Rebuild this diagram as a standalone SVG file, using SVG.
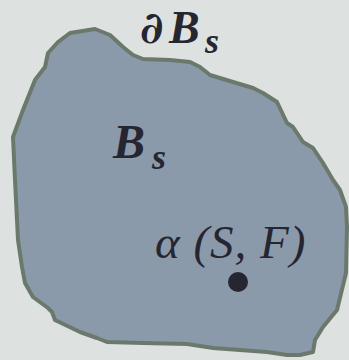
<svg xmlns="http://www.w3.org/2000/svg" width="349" height="360" viewBox="0 0 349 360">
<style>
.lbl{font-family:"Liberation Serif","DejaVu Serif",serif;fill:#262631}
.b{font-weight:bold;font-style:italic}
.m{font-style:italic}
.d{font-family:"DejaVu Serif",serif;font-weight:bold;font-style:italic;fill:#262631}
</style>
<rect width="349" height="360" fill="#dde2e0"/>
<g id="region">
<path d="M13,137 L23,110 L35,80 L45,67 L48,53 L58,42 L70,33 L95,29 L110,35 L123,47 L133,55 L143,59 L170,60 L190,62 L200,67 L210,75 L233,82 L253,88 L263,93 L277,102 L287,123 L293,127 L303,142 L313,148 L323,163 L333,180 L340,190 L346,207 L347,227 L346,273 L337,310 L323,327 L315,340 L313,352 L300,355 L287,355 L267,352 L213,348 L187,344 L143,343 L107,342 L97,338 L80,332 L55,320 L52,312 L48,308 L33,297 L25,283 L22,267 L18,240 L15,180 Z" fill="#8a9aab" stroke="#6b796c" stroke-width="4" stroke-linejoin="round"/>
</g>
<g id="labels">
<text class="d" x="140" y="43" font-size="44">∂</text>
<text class="lbl b" x="169" y="43" font-size="46">B</text>
<text class="lbl b" x="205" y="53" font-size="36">s</text>
<text class="lbl b" x="113" y="158" font-size="48">B</text>
<text class="lbl b" x="152" y="169" font-size="36">s</text>
<text class="lbl m" x="155" y="258" font-size="47" letter-spacing="1">α (S, F)</text>
</g>
<g id="point">
<circle cx="238" cy="282" r="10" fill="#262631"/>
</g>
</svg>
